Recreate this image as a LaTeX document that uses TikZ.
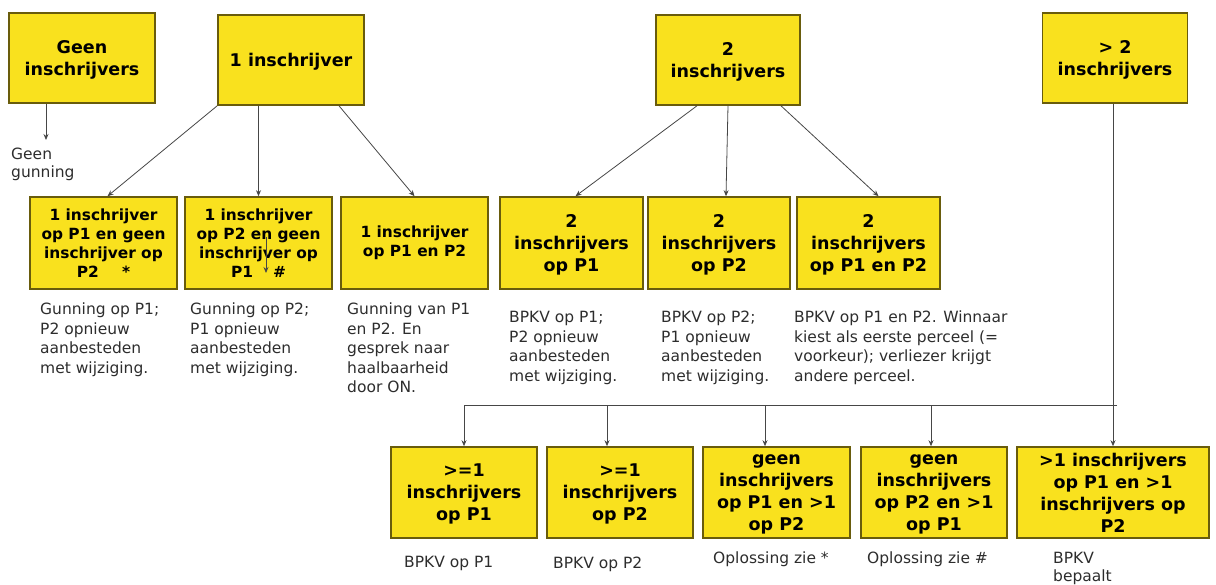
\documentclass[tikz,border=0pt]{standalone}
\usepackage{fontspec}
\setmainfont{DejaVu Sans}
\usetikzlibrary{arrows.meta}

\definecolor{boxfill}{RGB}{249,225,30}
\definecolor{boxline}{RGB}{105,92,12}
\definecolor{linegray}{RGB}{70,70,70}
\definecolor{txtgray}{RGB}{45,45,45}

\begin{document}
\begin{tikzpicture}[
        x = 1pt, y = -1pt,
        boxbase/.style = {draw=boxline, fill=boxfill, line width=1.6pt,
            minimum width=146pt, minimum height=90pt, align=center, inner sep=2pt},
        box/.style = {boxbase, text depth=-4pt,
            font=\bfseries\fontsize{17.5}{22}\selectfont},
        smallbox/.style = {boxbase, font=\bfseries\fontsize{15.4}{19}\selectfont},
        note/.style = {anchor=north west, align=left, inner sep=0pt, text=txtgray,
            font=\fontsize{15.5}{19.5}\selectfont},
        line/.style = {draw=linegray, line width=.8pt},
        conn/.style = {line, -{Stealth[length=6pt, width=5pt]}}
    ]
        \useasboundingbox (0,0) rectangle (1216,584);

        % top row
        \node[box] (geen) at (82,58) {Geen\\inschrijvers};
        \node[box] (een) at (291,60) {1 inschrijver};
        \node[box, minimum width=144pt] (twee) at (728,60) {2\\inschrijvers};
        \node[box, minimum width=145pt] (meer) at (1115,58) {> 2\\inschrijvers};

        \node[note, font=\fontsize{15.5}{18}\selectfont] (gunning) at (11,148) {Geen\\gunning};
        \coordinate (ggtip) at (46,140);
        \draw[conn] (geen.south -| ggtip) -- (ggtip);

        % second row
        \node[smallbox, minimum width=147pt, minimum height=92pt] (b1) at (103.5,243)
            {1 inschrijver\\op P1 en geen\\inschrijver op\\P2\hspace{1.5em}*};
        \node[smallbox, minimum width=147pt, minimum height=92pt] (b2) at (258.5,243)
            {1 inschrijver\\op P2 en geen\\inschrijver op\\P1\hspace{1.3em}\#};
        \node[smallbox, minimum width=147pt, minimum height=92pt] (b3) at (414.5,243)
            {1 inschrijver\\op P1 en P2};
        \node[box, minimum width=143pt, minimum height=92pt] (b4) at (571.5,243)
            {2\\inschrijvers\\op P1};
        \node[box, minimum width=142pt, minimum height=92pt] (b5) at (719,243)
            {2\\inschrijvers\\op P2};
        \node[box, minimum width=143pt, minimum height=92pt] (b6) at (868.5,243)
            {2\\inschrijvers\\op P1 en P2};

        \draw[conn] ([xshift=7.5pt, yshift=6pt]b2.center) -- ([xshift=7.5pt, yshift=-30pt]b2.center);

        \draw[conn] (een.south west) -- ([xshift=4pt]b1.north);
        \draw[conn] (b2.north |- een.south) -- (b2.north);
        \draw[conn] ([xshift=48pt]een.south) -- (b3.north);
        \draw[conn] ([xshift=-31pt]twee.south) -- ([xshift=4pt]b4.north);
        \draw[conn] (twee.south) -- ([xshift=7pt]b5.north);
        \draw[conn] ([xshift=53pt]twee.south) -- ([xshift=10pt]b6.north);

        \node[note] (d1) at (40,303) {Gunning op P1;\\P2 opnieuw\\aanbesteden\\met wijziging.};
        \node[note] (d2) at (190,303) {Gunning op P2;\\P1 opnieuw\\aanbesteden\\met wijziging.};
        \node[note] (d3) at (347,303) {Gunning van P1\\en P2. En\\gesprek naar\\haalbaarheid\\door ON.};
        \node[note] (d4) at (509,311) {BPKV op P1;\\P2 opnieuw\\aanbesteden\\met wijziging.};
        \node[note] (d5) at (661,311) {BPKV op P2;\\P1 opnieuw\\aanbesteden\\met wijziging.};
        \node[note] (d6) at (794,311) {BPKV op P1 en P2. Winnaar\\kiest als eerste perceel (=\\voorkeur); verliezer krijgt\\andere perceel.};

        % third row
        \node[box, minimum height=91pt] (b7) at (464,492.5) {>=1\\inschrijvers\\op P1};
        \node[box, minimum height=91pt] (b8) at (620,492.5) {>=1\\inschrijvers\\op P2};
        \node[box, minimum width=147pt, minimum height=91pt] (b9) at (776.5,492.5)
            {geen\\inschrijvers\\op P1 en >1\\op P2};
        \node[box, minimum height=91pt] (b10) at (934,492.5)
            {geen\\inschrijvers\\op P2 en >1\\op P1};
        \node[box, minimum width=192pt, minimum height=91pt, text depth=-1pt] (b11) at (1113,492.5)
            {>1 inschrijvers\\op P1 en >1\\inschrijvers op\\P2};

        \draw[conn] (b11.north |- meer.south) -- (b11.north);
        \coordinate (split) at (1117,405);
        \draw[line] (split) -- (b7.north |- split);
        \foreach \b/\dx in {b7/0, b8/-13, b9/-11.5, b10/-3}
            \draw[conn] ([xshift=\dx pt]\b.north |- split) -- ([xshift=\dx pt]\b.north);

        \node[note] (e1) at (404,556) {BPKV op P1};
        \node[note] (e2) at (553,557) {BPKV op P2};
        \node[note] (e3) at (713,552) {Oplossing zie *};
        \node[note] (e4) at (867,552) {Oplossing zie \#};
        \node[note, font=\fontsize{15.5}{18}\selectfont] (e5) at (1053,552) {BPKV\\bepaalt};
    \end{tikzpicture}
\end{document}
